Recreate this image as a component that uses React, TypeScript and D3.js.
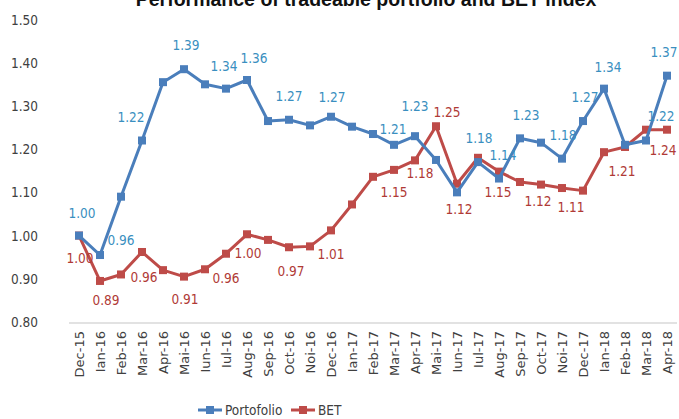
import React, { useRef, useEffect } from "react";
import * as d3 from "d3";

const months = [
  "Dec-15", "Ian-16", "Feb-16", "Mar-16", "Apr-16", "Mai-16", "Iun-16", "Iul-16",
  "Aug-16", "Sep-16", "Oct-16", "Noi-16", "Dec-16", "Ian-17", "Feb-17", "Mar-17",
  "Apr-17", "Mai-17", "Iun-17", "Iul-17", "Aug-17", "Sep-17", "Oct-17", "Noi-17",
  "Dec-17", "Ian-18", "Feb-18", "Mar-18", "Apr-18",
];

const portfolio = [
  1.0, 0.955, 1.09, 1.22, 1.355, 1.385, 1.35, 1.34, 1.36, 1.265, 1.268, 1.255,
  1.275, 1.252, 1.235, 1.21, 1.23, 1.175, 1.1, 1.17, 1.132, 1.225, 1.215, 1.178,
  1.265, 1.34, 1.21, 1.22, 1.37,
];

const bet = [
  1.0, 0.895, 0.91, 0.962, 0.92, 0.905, 0.922, 0.958, 1.003, 0.99, 0.973, 0.975,
  1.012, 1.072, 1.136, 1.152, 1.174, 1.253, 1.12, 1.18, 1.148, 1.124, 1.118, 1.11,
  1.104, 1.193, 1.205, 1.245, 1.245,
];

const yTicks = [0.8, 0.9, 1.0, 1.1, 1.2, 1.3, 1.4, 1.5];

// which points carry a value label: [index, text, dx, dy]
const portfolioLabels: [number, string, number, number][] = [
  [0, "1.00", 3, -18], [1, "0.96", 21, -10], [3, "1.22", -11, -19], [5, "1.39", 2, -19],
  [7, "1.34", -2, -18], [8, "1.36", 7, -17], [10, "1.27", 0, -19], [12, "1.27", 1, -15],
  [15, "1.21", -1, -11], [16, "1.23", 0, -25], [19, "1.18", 1, -19], [20, "1.14", 4, -19],
  [21, "1.23", 6, -18], [23, "1.18", 1, -19], [24, "1.27", 2, -19], [25, "1.34", 4, -17],
  [27, "1.22", 15, -20], [28, "1.37", -3, -19],
];

const betLabels: [number, string, number, number][] = [
  [0, "1.00", 1, 27], [1, "0.89", 6, 24], [3, "0.96", 2, 30], [5, "0.91", 1, 27],
  [7, "0.96", 0, 29], [8, "1.00", 1, 24], [10, "0.97", 2, 29], [12, "1.01", 0, 29],
  [15, "1.15", 0, 27], [16, "1.18", 5, 18], [17, "1.25", 11, -9], [18, "1.12", 2, 30],
  [20, "1.15", -1, 25], [22, "1.12", -3, 21], [23, "1.11", 9, 24], [26, "1.21", -3, 29],
  [28, "1.24", -4, 25],
];

const BLUE = "#4a7ebb";
const RED = "#be4b48";
const LBLUE = "#3a8fc0";
const LRED = "#b03a36";

const W = 679;
const H = 419;

const PerformanceChart = () => {
  const svgRef = useRef<SVGSVGElement | null>(null);

  useEffect(() => {
    if (!svgRef.current) return;
    const svg = d3.select(svgRef.current);
    svg.selectAll("*").remove();

    const font = "'Liberation Sans Narrow', 'DejaVu Sans Condensed', sans-serif";

    const x = d3.scalePoint<string>().domain(months).range([79, 667]);
    const y = d3.scaleLinear().domain([0.8, 1.5]).range([322, 19.5]);

    // title (cut off at the top in the source)
    svg.append("text")
      .attr("x", 366)
      .attr("y", 6)
      .attr("text-anchor", "middle")
      .style("font-family", "'Liberation Sans', Arial, sans-serif")
      .style("font-weight", "bold")
      .style("font-size", "19.5px")
      .attr("fill", "#111")
      .text("Performance of tradeable portfolio and BET index");

    // y tick labels
    svg.append("g")
      .selectAll("text")
      .data(yTicks)
      .join("text")
      .attr("x", 38)
      .attr("y", (d) => y(d) + 5)
      .attr("text-anchor", "end")
      .style("font-family", font)
      .style("font-size", "13.5px")
      .attr("fill", "#404040")
      .text((d) => d.toFixed(2));

    // baseline
    svg.append("line")
      .attr("x1", 69)
      .attr("x2", 677)
      .attr("y1", y(0.8) + 1)
      .attr("y2", y(0.8) + 1)
      .attr("stroke", "#d9d9d9")
      .attr("stroke-width", 1.5);

    // x labels
    svg.append("g")
      .selectAll("text")
      .data(months)
      .join("text")
      .attr("transform", (d) => `translate(${x(d)! + 5},331) rotate(-90)`)
      .attr("text-anchor", "end")
      .style("font-family", "'DejaVu Sans', sans-serif")
      .style("font-size", "13px")
      .attr("fill", "#404040")
      .text((d) => d);

    const line = d3.line<number>()
      .x((_, i) => x(months[i])!)
      .y((d) => y(d));

    const drawSeries = (vals: number[], color: string) => {
      svg.append("path")
        .datum(vals)
        .attr("d", line)
        .attr("fill", "none")
        .attr("stroke", color)
        .attr("stroke-width", 3)
        .attr("stroke-linejoin", "round");
      svg.append("g")
        .selectAll("rect")
        .data(vals)
        .join("rect")
        .attr("x", (_, i) => x(months[i])! - 4)
        .attr("y", (d) => y(d) - 4)
        .attr("width", 8)
        .attr("height", 8)
        .attr("fill", color);
    };

    drawSeries(bet, RED);
    drawSeries(portfolio, BLUE);

    const drawLabels = (lbls: [number, string, number, number][], vals: number[], color: string) => {
      svg.append("g")
        .selectAll("text")
        .data(lbls)
        .join("text")
        .attr("x", (d) => x(months[d[0]])! + d[2])
        .attr("y", (d) => y(vals[d[0]]) + d[3])
        .attr("text-anchor", "middle")
        .style("font-family", font)
        .style("font-size", "13.5px")
        .attr("fill", color)
        .text((d) => d[1]);
    };

    drawLabels(betLabels, bet, LRED);
    drawLabels(portfolioLabels, portfolio, LBLUE);

    // legend
    const legend = [
      { name: "Portofolio", color: BLUE, x: 198 },
      { name: "BET", color: RED, x: 291 },
    ];
    const lg = svg.append("g").selectAll("g").data(legend).join("g")
      .attr("transform", (d) => `translate(${d.x},410)`);
    lg.append("line")
      .attr("x1", 0).attr("x2", 24)
      .attr("stroke", (d) => d.color)
      .attr("stroke-width", 3);
    lg.append("rect")
      .attr("x", 8).attr("y", -4).attr("width", 8).attr("height", 8)
      .attr("fill", (d) => d.color);
    lg.append("text")
      .attr("x", 27)
      .attr("y", 5)
      .style("font-family", font)
      .style("font-size", "13.5px")
      .attr("fill", "#404040")
      .text((d) => d.name);
  }, []);

  return (
    <div style={{ position: "absolute", left: 0, top: 0, width: W, height: H, background: "#fff" }}>
      <svg ref={svgRef} width={W} height={H}></svg>
    </div>
  );
};

export default function App() {
  return <PerformanceChart />;
}
